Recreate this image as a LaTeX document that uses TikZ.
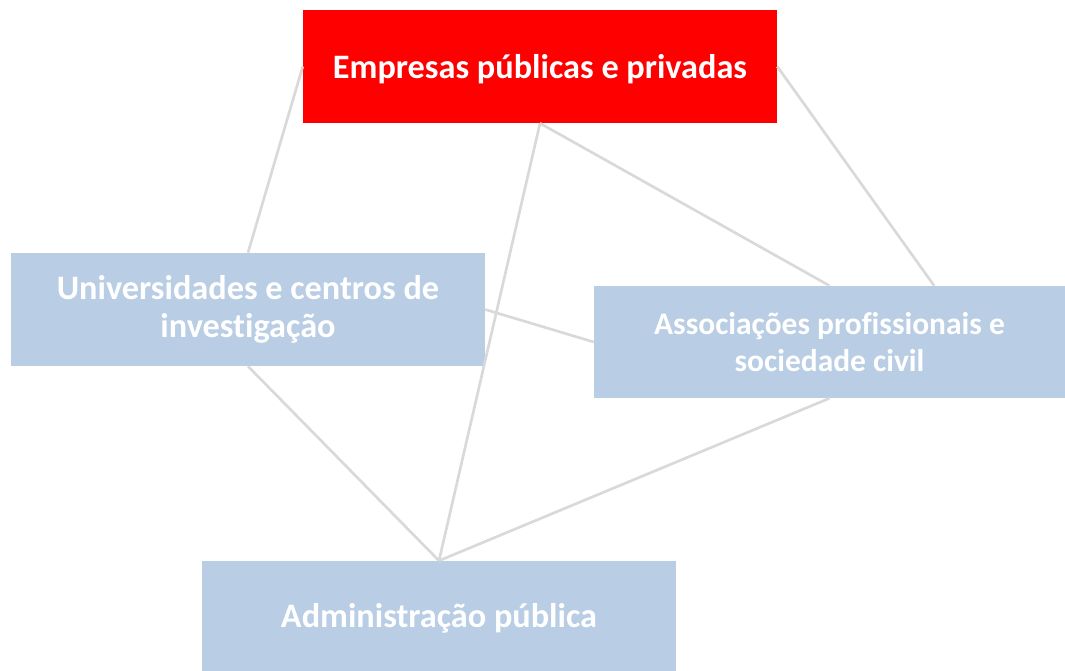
\documentclass[tikz,border=0pt]{standalone}
\usepackage{fontspec}
\setmainfont[Ligatures=NoCommon]{Carlito}
\usetikzlibrary{calc}
\definecolor{boxblue}{HTML}{B9CDE5}
\definecolor{linegray}{HTML}{D9D9D9}
\begin{document}
\begin{tikzpicture}[x=0.75pt,y=-0.75pt,
  box/.style={rectangle, inner sep=0pt, text=white, align=center, font=\bfseries\fontsize{25.7}{28}\selectfont},
  link/.style={draw=linegray, line width=2pt}]
\useasboundingbox (0,0) rectangle (1065,671);
\node[box, fill=red, minimum width=474*0.75pt, minimum height=113*0.75pt] (emp) at (540,66.5) {\raisebox{-1.8pt}[\height][\depth]{Empresas públicas e privadas}};
\node[box, fill=boxblue, minimum width=474*0.75pt, minimum height=113*0.75pt] (uni) at (248,309.5) {Universidades e centros de\\investigação};
\node[box, fill=boxblue, minimum width=471*0.75pt, minimum height=112*0.75pt, font=\bfseries\fontsize{23.6}{28}\selectfont] (asc) at (829.5,342) {Associações profissionais e\\sociedade civil};
\node[box, fill=boxblue, minimum width=474*0.75pt, minimum height=110*0.75pt] (adm) at (439,616) {\raisebox{-1.5pt}[\height][\depth]{Administração pública}};
\coordinate (ascr) at ($(asc.north west)!0.722!(asc.north east)$);
\draw[link] (emp.west) -- (uni.north);
\draw[link] (emp.south) -- (adm.north);
\draw[link] (emp.south) -- (asc.north);
\draw[link] (emp.east) -- (ascr);
\draw[link] (uni.east) -- (asc.west);
\draw[link] (uni.south) -- (adm.north);
\draw[link] (asc.south) -- (adm.north);
\end{tikzpicture}
\end{document}
